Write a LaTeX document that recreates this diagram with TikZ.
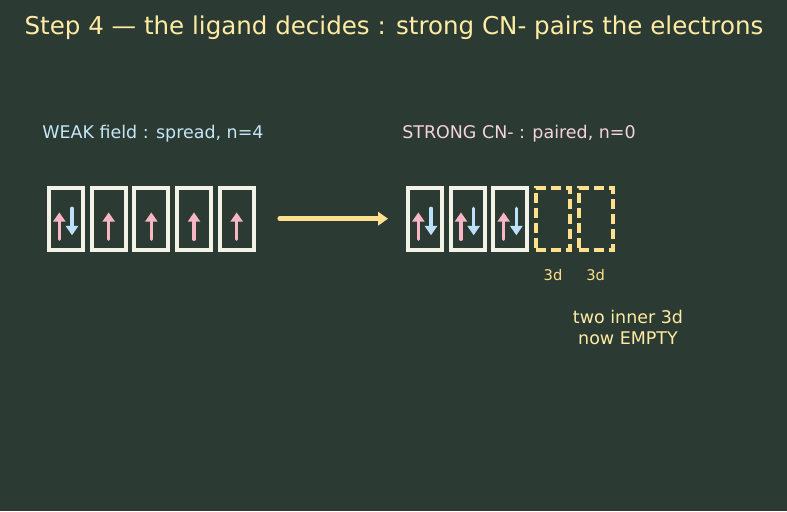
\documentclass[tikz,border=0pt]{standalone}
\usepackage{fontspec}
\setmainfont{DejaVu Sans}
\usetikzlibrary{arrows.meta,positioning}
\definecolor{boardbg}{HTML}{2B3B34}
\definecolor{chalk}{HTML}{F2F2E6}
\definecolor{titlegold}{HTML}{FFEBA2}
\definecolor{emptygold}{HTML}{FFE08C}
\definecolor{spinup}{HTML}{F7B6C4}
\definecolor{spindown}{HTML}{BCE2FA}
\definecolor{weakblue}{HTML}{C6E5F5}
\definecolor{strongpink}{HTML}{F6D2DC}

\tikzset{
  orb/.style={draw=chalk, line width=3pt, minimum width=25.5pt,
    minimum height=46.5pt, outer sep=0pt, inner sep=0pt},
  emptyorb/.style={orb, draw=emptygold, dash pattern=on 7.5pt off 3.75pt},
  upspin/.style={spinup, line width=2.4pt, line cap=round,
    -{Triangle[width=9pt,length=7pt]}},
  downspin/.style={spindown, line width=2.4pt, line cap=round,
    -{Triangle[width=9pt,length=7pt]}},
}

\begin{document}
\begin{tikzpicture}[x=0.75pt, y=-0.75pt, node distance=6.5pt]
  \fill[boardbg] (0,0) rectangle (787,511);
  \useasboundingbox (0,0) rectangle (787,511);

  \node[titlegold, font=\fontsize{18.4}{22}\selectfont] (title) at (394,28)
    {Step 4 — the ligand decides : strong CN- pairs the electrons};

  % high-spin side
  \node[weakblue, anchor=west, inner sep=0pt, font=\fontsize{13.1}{16}\selectfont] (weaklbl) at (42,134)
    {WEAK field : spread, n=4};
  \node[orb] (w1) at (66,218.7) {};
  \foreach \i/\j in {2/1,3/2,4/3,5/4}
    \node[orb, right=of w\j] (w\i) {};
  \draw[upspin] ([xshift=-5pt,yshift=-15.5pt]w1.center) -- ++(0,-27);
  \draw[downspin] ([xshift=4.5pt,yshift=7.8pt]w1.center) -- ++(0,27);
  \foreach \i in {2,...,5}
    \draw[upspin] ([yshift=-15.5pt]w\i.center) -- ++(0,-27);

  % low-spin side
  \node[strongpink, anchor=west, inner sep=0pt, font=\fontsize{13.1}{16}\selectfont] (stronglbl) at (402,134)
    {STRONG CN- : paired, n=0};
  \node[orb] (s1) at (425,218.7) {};
  \node[orb, right=of s1] (s2) {};
  \node[orb, right=of s2] (s3) {};
  \node[emptyorb, right=of s3] (s4) {};
  \node[emptyorb, right=of s4] (s5) {};
  \foreach \i in {1,2,3} {
    \draw[upspin] ([xshift=-5pt,yshift=-15.5pt]s\i.center) -- ++(0,-27);
    \draw[downspin] ([xshift=4.5pt,yshift=7.8pt]s\i.center) -- ++(0,27);
  }
  \node[emptygold, font=\fontsize{11}{13}\selectfont, below=11pt of s4] (d4) {3d};
  \node[emptygold, font=\fontsize{11}{13}\selectfont, below=11pt of s5] (d5) {3d};
  \node[titlegold, align=center, font=\fontsize{13.1}{15.75}\selectfont] (note) at (628,327)
    {two inner 3d\\now EMPTY};

  \draw[emptygold, line width=3.4pt, line cap=round,
    -{Triangle[width=10pt,length=7.5pt]},
    shorten <=19.5pt, shorten >=15pt] (w5.east) -- (s1.west);
\end{tikzpicture}
\end{document}
